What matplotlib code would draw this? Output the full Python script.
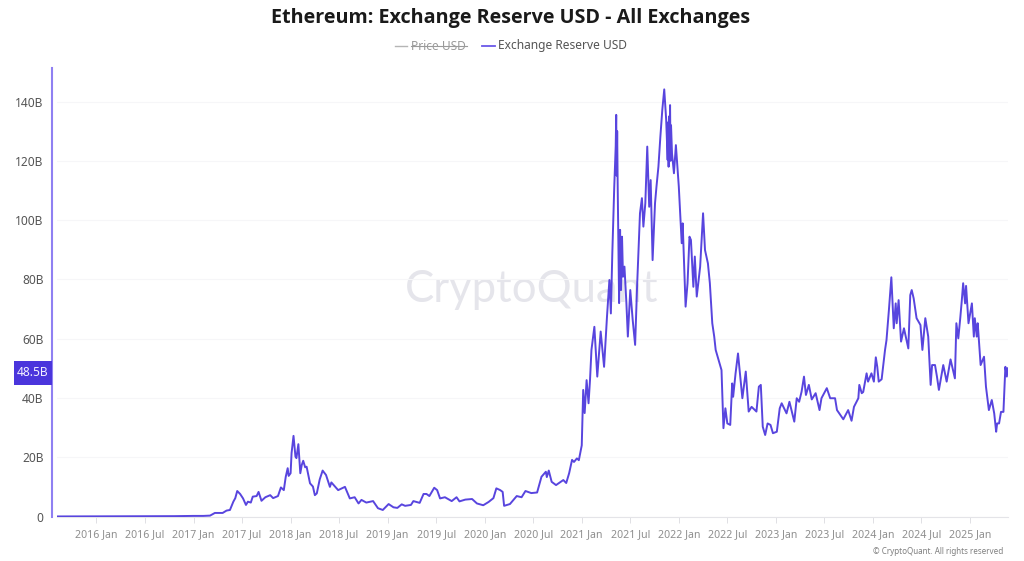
import matplotlib
matplotlib.use("Agg")
import matplotlib.pyplot as plt
from matplotlib.lines import Line2D
from matplotlib.patches import Rectangle
from matplotlib.transforms import blended_transform_factory

plt.rcParams['font.family'] = ['Noto Sans', 'DejaVu Sans']

TITLE = "Ethereum: Exchange Reserve USD - All Exchanges"
LINE_COLOR = "#4A35DC"
SPINE_COLOR = "#8F80F2"

years = [
    2015.60, 2016.0, 2016.4, 2016.8, 2017.0, 2017.10, 2017.17, 2017.22, 2017.30, 2017.34, 2017.375, 2017.41, 2017.43, 2017.45, 2017.48,
    2017.51, 2017.54, 2017.56, 2017.59, 2017.61, 2017.65, 2017.67, 2017.70, 2017.74, 2017.79, 2017.82, 2017.87, 2017.90, 2017.93, 2017.95,
    2017.97, 2017.98, 2018.00, 2018.01, 2018.03, 2018.05, 2018.06, 2018.08, 2018.10, 2018.115, 2018.13, 2018.15, 2018.165, 2018.20, 2018.23,
    2018.25, 2018.27, 2018.30, 2018.33, 2018.365, 2018.405, 2018.42, 2018.49, 2018.56, 2018.61, 2018.66, 2018.70, 2018.73, 2018.78, 2018.85,
    2018.90, 2018.95, 2019.01, 2019.06, 2019.10, 2019.145, 2019.18, 2019.24, 2019.265, 2019.33, 2019.37, 2019.40, 2019.43, 2019.48, 2019.51,
    2019.54, 2019.59, 2019.66, 2019.71, 2019.74, 2019.80, 2019.87, 2019.92, 2019.985, 2020.04, 2020.09, 2020.12, 2020.16, 2020.185, 2020.20,
    2020.26, 2020.33, 2020.38, 2020.42, 2020.48, 2020.54, 2020.585, 2020.63, 2020.64, 2020.66, 2020.69, 2020.735, 2020.81, 2020.84, 2020.87,
    2020.90, 2020.92, 2020.95, 2020.97, 2021.00, 2021.015, 2021.03, 2021.05, 2021.07, 2021.085, 2021.10, 2021.13, 2021.16, 2021.195, 2021.23,
    2021.26, 2021.285, 2021.30, 2021.315, 2021.335, 2021.35, 2021.355, 2021.36, 2021.365, 2021.37, 2021.385, 2021.395, 2021.405, 2021.415, 2021.425, 2021.44, 2021.46, 2021.475,
    2021.50, 2021.525, 2021.55, 2021.57, 2021.59, 2021.60, 2021.62, 2021.635, 2021.655, 2021.675, 2021.695, 2021.71, 2021.73, 2021.755, 2021.77,
    2021.79, 2021.81, 2021.83, 2021.85, 2021.87, 2021.885, 2021.89, 2021.895, 2021.90, 2021.905, 2021.91, 2021.915, 2021.92, 2021.93, 2021.95, 2021.97, 2022.00, 2022.03, 2022.04, 2022.07, 2022.09,
    2022.11, 2022.125, 2022.15, 2022.165, 2022.185, 2022.22, 2022.25, 2022.27, 2022.30, 2022.32, 2022.345, 2022.365, 2022.38, 2022.42, 2022.44,
    2022.46, 2022.48, 2022.50, 2022.53, 2022.55, 2022.56, 2022.585, 2022.61, 2022.655, 2022.69, 2022.72, 2022.75, 2022.80, 2022.825, 2022.845,
    2022.865, 2022.89, 2022.915, 2022.945, 2022.97, 2023.01, 2023.04, 2023.06, 2023.11, 2023.14, 2023.19, 2023.215, 2023.24, 2023.265, 2023.29,
    2023.31, 2023.34, 2023.37, 2023.41, 2023.45, 2023.47, 2023.525, 2023.56, 2023.61, 2023.63, 2023.695, 2023.745, 2023.78, 2023.805, 2023.85,
    2023.86, 2023.885, 2023.90, 2023.935, 2023.95, 2023.985, 2024.01, 2024.03, 2024.045, 2024.06, 2024.09, 2024.125, 2024.14, 2024.165, 2024.19,
    2024.215, 2024.235, 2024.245, 2024.265, 2024.29, 2024.32, 2024.365, 2024.385, 2024.40, 2024.42, 2024.45, 2024.49, 2024.51, 2024.54, 2024.57,
    2024.595, 2024.61, 2024.64, 2024.66, 2024.68, 2024.725, 2024.76, 2024.80, 2024.845, 2024.86, 2024.88, 2024.90, 2024.915, 2024.93, 2024.95,
    2024.96, 2024.985, 2025.02, 2025.04, 2025.05, 2025.07, 2025.08, 2025.11, 2025.145, 2025.165, 2025.195, 2025.225, 2025.25, 2025.27, 2025.28,
    2025.30, 2025.32, 2025.345, 2025.365, 2025.38, 2025.39,
]

reserve_b = [
    0.02, 0.05, 0.1, 0.12, 0.2, 0.2, 0.3, 1.2, 1.2, 2.0, 2.2, 5.0, 6.2, 8.6, 7.6,
    6.1, 3.9, 5.0, 4.7, 6.7, 6.9, 8.3, 5.3, 6.5, 7.2, 6.2, 6.9, 9.8, 8.9, 13.4,
    16.3, 13.7, 14.6, 21.4, 27.2, 20.2, 19.7, 24.4, 14.6, 17.4, 18.8, 16.6, 16.8, 11.2, 10.1,
    7.2, 7.8, 12.5, 15.5, 14.0, 10.0, 11.5, 8.9, 10.0, 6.1, 6.5, 4.4, 5.6, 4.7, 5.2,
    2.8, 2.2, 4.2, 3.1, 2.9, 4.1, 3.6, 3.9, 5.2, 4.6, 7.6, 7.6, 6.9, 9.7, 8.9,
    6.1, 6.5, 5.2, 6.5, 5.1, 5.7, 5.9, 4.4, 3.8, 4.9, 6.2, 9.5, 8.9, 8.3, 3.6,
    4.2, 6.9, 6.5, 8.6, 7.9, 8.1, 13.4, 15.1, 13.3, 15.5, 11.7, 10.6, 12.3, 11.3, 14.6,
    19.1, 18.4, 19.6, 19.0, 24.0, 42.7, 34.9, 46.0, 38.2, 46.0, 56.2, 64.0, 47.2, 62.4, 50.5,
    67.4, 79.8, 68.5, 88.9, 111.3, 125.0, 135.5, 115.0, 130.0, 112.4, 72.0, 96.7, 76.4, 94.4, 80.9, 84.3, 72.0, 60.7,
    76.4, 66.3, 57.9, 77.5, 94.4, 102.3, 107.4, 97.8, 105.7, 124.8, 104.5, 113.5, 86.5, 105.7, 111.3,
    118.0, 128.1, 137.2, 144.1, 133.8, 120.3, 133.0, 118.0, 135.0, 121.0, 138.8, 120.0, 132.0, 122.5, 115.8, 125.3, 111.3, 92.2, 98.9, 70.8, 78.7,
    94.4, 93.3, 77.5, 87.7, 74.2, 84.3, 102.3, 89.9, 85.4, 78.7, 65.2, 60.7, 56.2, 51.7, 49.4,
    29.8, 36.5, 31.4, 30.9, 44.9, 40.4, 48.3, 55.0, 39.9, 48.9, 35.4, 37.0, 35.4, 43.8, 44.4,
    30.3, 27.5, 31.4, 30.9, 28.1, 28.6, 36.5, 38.2, 34.8, 38.7, 32.0, 39.9, 38.7, 42.1, 47.2,
    41.0, 44.4, 39.5, 41.6, 35.9, 39.9, 43.3, 39.9, 39.9, 35.9, 32.8, 35.9, 32.3, 37.0, 39.9,
    44.4, 41.6, 42.0, 48.3, 45.5, 48.3, 45.5, 53.7, 50.5, 45.5, 46.3, 56.2, 59.5, 69.7, 80.7,
    63.5, 71.9, 65.2, 73.0, 59.0, 63.5, 56.7, 74.7, 76.4, 73.6, 66.9, 64.6, 56.2, 66.9, 60.7,
    44.4, 51.1, 51.1, 47.2, 42.7, 51.1, 45.5, 53.0, 46.6, 65.2, 60.1, 66.9, 72.5, 78.7, 71.9,
    77.8, 65.2, 71.9, 60.7, 66.9, 60.7, 65.2, 51.1, 53.9, 43.8, 35.9, 39.3, 34.8, 28.6, 31.4,
    31.4, 35.3, 35.3, 50.5, 47.2, 50.0,
]

y_ticks = [0, 20, 40, 60, 80, 100, 120, 140]
y_labels = ["0", "20B", "40B", "60B", "80B", "100B", "120B", "140B"]
x_ticks = [2016 + 0.5 * i for i in range(19)]
x_labels = ["2016 Jan", "2016 Jul", "2017 Jan", "2017 Jul", "2018 Jan", "2018 Jul", "2019 Jan",
            "2019 Jul", "2020 Jan", "2020 Jul", "2021 Jan", "2021 Jul", "2022 Jan", "2022 Jul",
            "2023 Jan", "2023 Jul", "2024 Jan", "2024 Jul", "2025 Jan"]
latest_value = 48.5

W, H = 1024, 561
fig = plt.figure(figsize=(W / 100, H / 100), dpi=100, facecolor="white")
fx = lambda p: p / W
fy = lambda p: 1 - p / H

ax = fig.add_axes([fx(57), fy(516.5), (1008 - 57) / W, (516.5 - 68) / H])
ax.set_xlim(2016 + (57 - 96.5) / 97.05, 2016 + (1008 - 96.5) / 97.05)
ax.set_ylim(0, (516.5 - 68) / 2.964)

ax.plot(years, reserve_b, color=LINE_COLOR, lw=1.4, solid_joinstyle="round", zorder=3, alpha=0.92)

for s in ("top", "right"):
    ax.spines[s].set_visible(False)
ax.spines["left"].set_position(("outward", 3.6))
ax.spines["left"].set_color(SPINE_COLOR)
ax.spines["left"].set_linewidth(1.5)
ax.spines["bottom"].set_color("#E4E4E8")
ax.spines["bottom"].set_linewidth(0.8)

ax.set_yticks(y_ticks, y_labels)
ax.set_xticks(x_ticks, x_labels)
ax.tick_params(axis="y", length=0, pad=6, labelsize=8.6, labelcolor="#555555")
ax.tick_params(axis="x", length=4, width=0.7, color="#E0E0E4", pad=5, labelsize=7.6, labelcolor="#8E8E8E")
ax.grid(axis="y", color="#F6F6F8", lw=0.8)
ax.set_axisbelow(True)

# Watermark sits behind the axes, so the line is drawn over it
fig.text(fx(532), fy(290), "CryptoQuant", ha="center", va="center", fontsize=31.4,
         color="#E5E5EB", zorder=-1, family=["Lato", "DejaVu Sans"])
ax.patch.set_alpha(0)

# Title
fig.text(fx(511), fy(18), TITLE, ha="center", va="center", fontsize=14.25, fontweight="bold",
         color="#1A1A1A", family=["Open Sans", "DejaVu Sans"])

# Legend
ly = fy(46)
fig.add_artist(Line2D([fx(395), fx(407)], [ly, ly], color="#B5B5B5", lw=1))
fig.text(fx(411), ly, "Price USD", ha="left", va="center", fontsize=8.6, color="#9A9A9A")
fig.add_artist(Line2D([fx(411), fx(467)], [ly, ly], color="#9A9A9A", lw=0.8))
fig.add_artist(Line2D([fx(482), fx(495)], [ly, ly], color="#6A58E8", lw=1.3))
fig.text(fx(498), ly, "Exchange Reserve USD", ha="left", va="center", fontsize=8.6, color="#555555")

# Latest-value tag on the y axis
trans = blended_transform_factory(fig.transFigure, ax.transData)
ax.add_patch(Rectangle((fx(14), latest_value - 4.0), (52 - 14) / W, 8.0, transform=trans,
                       facecolor=LINE_COLOR, edgecolor="none", clip_on=False, zorder=5))
ax.text(fx(33), latest_value, f"{latest_value}B", transform=trans, ha="center", va="center",
        fontsize=8.6, color="#F2F0FF", zorder=6, clip_on=False)

# Copyright
fig.text(fx(1003), fy(551), "© CryptoQuant. All rights reserved", ha="right", va="center",
         fontsize=5.8, color="#808080")

fig.savefig("out.png", dpi=100, facecolor="white")
